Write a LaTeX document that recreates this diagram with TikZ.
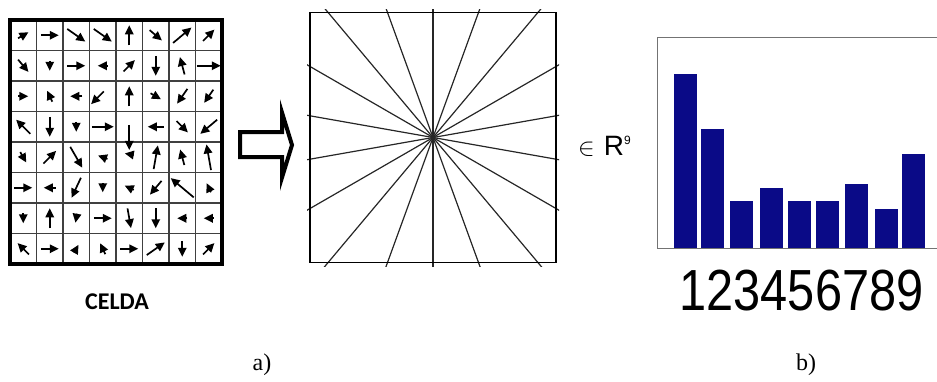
\documentclass[tikz,border=0pt]{standalone}
\usepackage{fontspec}
\setmainfont{Liberation Serif}
\newfontfamily\arialfont{Liberation Sans}
\newfontfamily\celdafont{Carlito}
\usetikzlibrary{arrows.meta}
\definecolor{barblue}{RGB}{10, 10, 135}
\definecolor{axisgray}{RGB}{115, 115, 115}

\begin{document}
\begin{tikzpicture}[x=1pt, y=-1pt,
  cellgrid/.style={draw=black!75, line width=1.4pt},
  cellframe/.style={draw=black, line width=3.2pt},
  grad/.style={line width=1.7pt, -{Triangle[length=9pt, width=8.5pt]}},
  ray/.style={draw=black!85, line width=1.2pt},
  bin/.style={fill=barblue},
  axis/.style={draw=axisgray, line width=0.9pt},
  caption/.style={font=\fontsize{24}{28}\selectfont, inner sep=0pt}
]
  \useasboundingbox (0,0) rectangle (937,381);

  % celda: 8x8 gradientes
  \foreach \i in {1,...,7} {
    \draw[cellgrid] ({10+26.5*\i},20) -- ({10+26.5*\i},264);
    \draw[cellgrid] (10,{20+30.5*\i}) -- (222,{20+30.5*\i});
  }
  \draw[cellframe] (10,20) rectangle (222,264);
  \foreach \r/\c/\a/\l in {
      1/1/30/12, 1/2/0/18, 1/3/-35/22, 1/4/-35/22, 1/5/90/20, 1/6/-40/16, 1/7/40/24, 1/8/45/16,
      2/1/-50/16, 2/2/-90/10, 2/3/0/18, 2/4/180/10, 2/5/45/16, 2/6/-90/20, 2/7/105/18, 2/8/0/24,
      3/1/0/10, 3/2/115/12, 3/3/180/12, 3.05/3.8/-135/18, 3/5/90/20, 3/6/-30/12, 3/7/-125/18, 3/8/-125/16,
      4/1/135/20, 4/2/-90/20, 4/3/-90/10, 4/4/0/22, 4.35/5/-90/25, 4/6/180/16, 4/7/-45/16, 4/8/-140/22,
      5/1/-60/12, 5/2/45/18, 5/3/-60/24, 5/4/160/10, 4.9/5/170/9, 5/6/80/24, 5/7/105/16, 5/8/100/26,
      6/1/0/18, 6/2/180/12, 6/3/-115/22, 6/4/-90/9, 6/5/155/10, 6/6/-130/18, 6/7/140/30, 6/8/115/10,
      7/1/-90/10, 7/2/90/20, 7/3/-100/9, 7/4/0/18, 7/5/-80/20, 7/6/-90/20, 7/7/180/10, 7/8/180/10,
      8/1/135/16, 8/2/0/18, 8/3/60/9, 8/4/115/12, 8/5/0/18, 8/6/35/22, 8/7/-90/16, 8/8/45/16}
    \draw[grad] ({10+26.5*(\c-0.5)-cos(\a)*\l/2}, {20+30.5*(\r-0.5)+sin(\a)*\l/2})
      -- ++({cos(\a)*\l}, {-sin(\a)*\l});
  \node[font=\celdafont\bfseries\fontsize{24}{26}\selectfont, inner sep=0pt] (celda) at (117,302) {CELDA};

  % flecha hueca
  \draw[line width=4pt, fill=white] (240,132) -- (282,132) -- (282,112.5) -- (292,145)
    -- (282,177.5) -- (282,157) -- (240,157) -- cycle;

  % bins de orientacion
  \begin{scope}
    \clip (307,9) rectangle (559,266);
    \foreach \a in {10,30,...,170}
      \draw[ray] ({433-200*cos(\a)}, {137.5+200*sin(\a)}) -- ({433+200*cos(\a)}, {137.5-200*sin(\a)});
  \end{scope}
  \draw[line width=1.6pt] (310,12.5) rectangle (556,262.5);

  \node[anchor=base west, inner sep=0pt, font=\arialfont\fontsize{28}{32}\selectfont] (pertenece) at (578,155)
    {$\in$\hspace{9pt}R\raisebox{11pt}{\fontsize{12}{12}\selectfont 9}};

  % histograma
  \draw[axis] (937,37) -- (657,37) -- (657,248) -- (937,248);
  \foreach \x/\h in {685.5/74, 712/129, 741.5/201, 771/188, 799.5/201, 827.5/201, 856.5/184, 886.5/209, 913/154}
    \fill[bin] ({\x-11.5},248) rectangle ({\x+11.5},\h);
  \node[anchor=base, inner sep=0pt, font=\arialfont\fontsize{58}{60}\selectfont] (bins) at (801.5,310)
    {\scalebox{0.84}[1]{123456789}};

  \node[caption] (capa) at (262,365) {a)};
  \node[caption] (capb) at (806,365) {b)};
\end{tikzpicture}
\end{document}
